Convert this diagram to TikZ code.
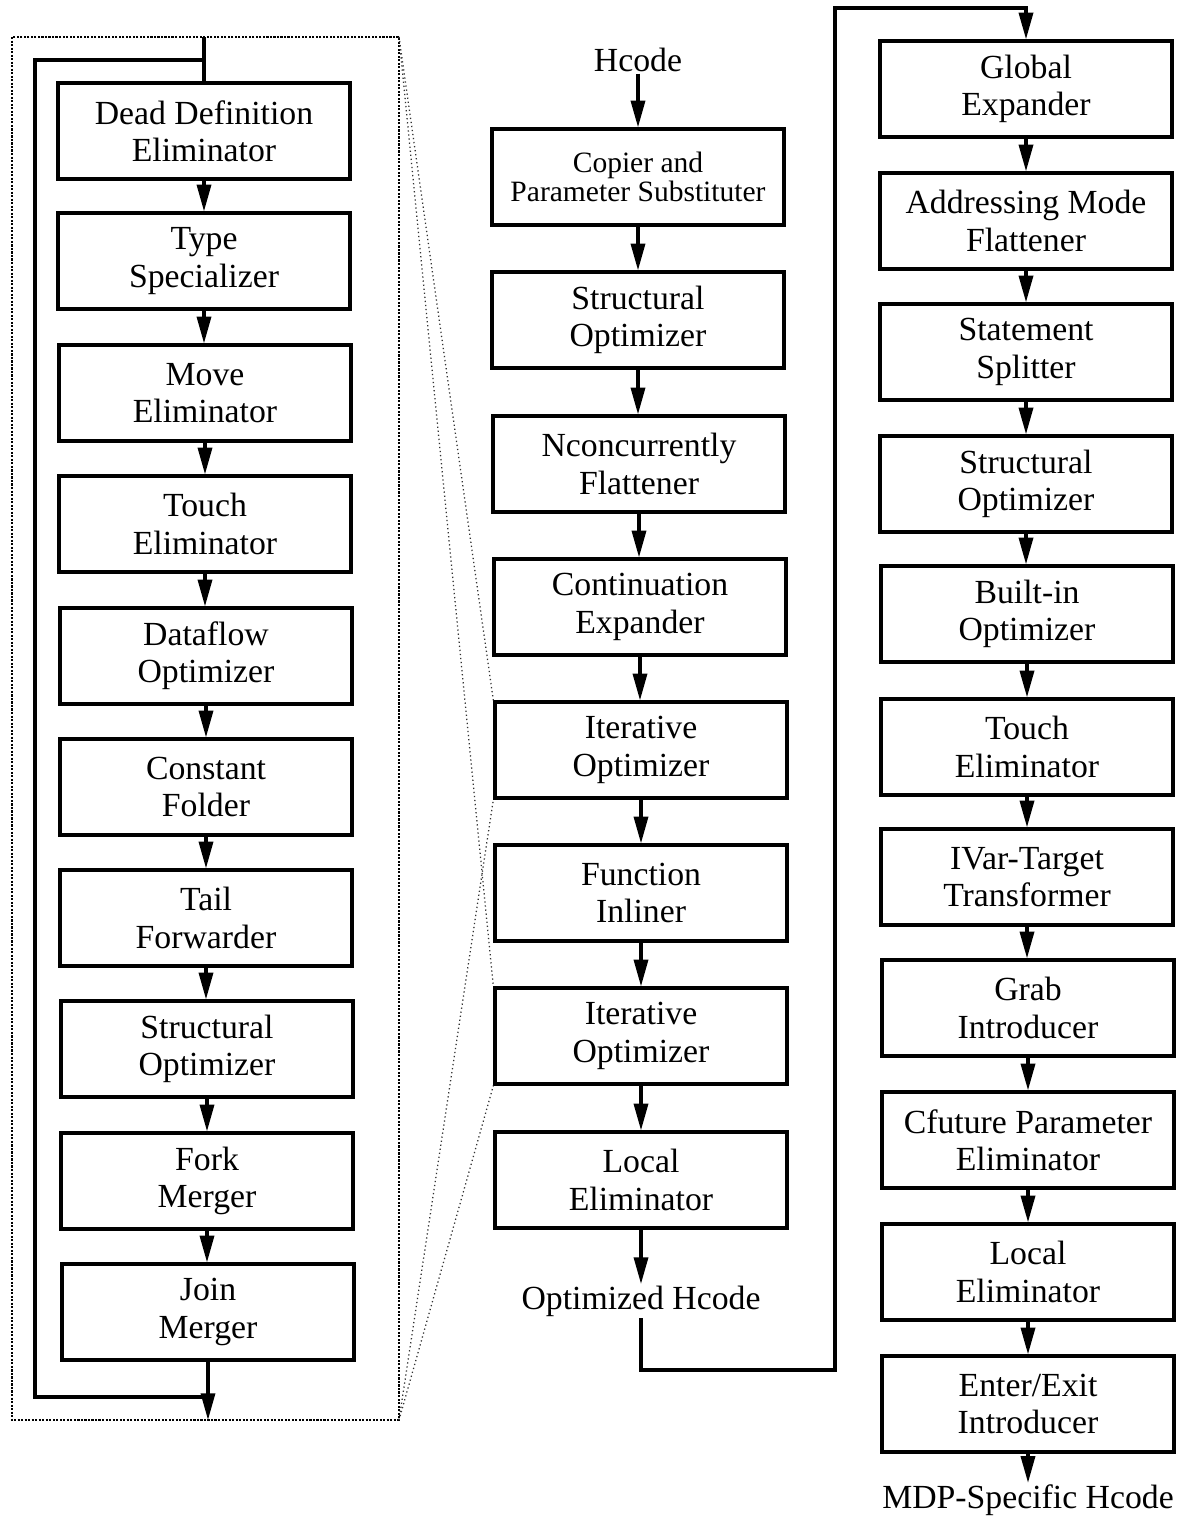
\documentclass[tikz,border=0pt]{standalone}
\usepackage{fontspec}
\setmainfont{Liberation Serif}
\usetikzlibrary{arrows.meta}
\begin{document}
\begin{tikzpicture}[x=0.025cm,y=-0.025cm,
  stage/.style={draw,line width=2.3pt,minimum width=7.3cm,minimum height=2.4cm,
    align=center,inner sep=0pt,font=\fontsize{24}{26.5}\selectfont},
  small/.style={font=\fontsize{21}{21}\selectfont},
  lbl/.style={inner sep=1pt,font=\fontsize{24}{26.5}\selectfont},
  link/.style={line width=2.3pt},
  arr/.style={line width=2.3pt,-{Triangle[width=10pt,length=19pt]}},
  dotbox/.style={densely dotted,line width=1.5pt},
  fan/.style={dotted,line width=0.9pt,black!80}]
\useasboundingbox (0,0) rectangle (1191,1519);

% left column: the iterative optimizer loop
\node[stage] (l1)  at (204,131)  {Dead Definition\\Eliminator};
\node[stage] (l2)  at (204,261)  {Type\\Specializer};
\node[stage] (l3)  at (205,393)  {Move\\Eliminator};
\node[stage] (l4)  at (205,524)  {Touch\\Eliminator};
\node[stage] (l5)  at (206,656)  {Dataflow\\Optimizer};
\node[stage] (l6)  at (206,787)  {Constant\\Folder};
\node[stage] (l7)  at (206,918)  {Tail\\Forwarder};
\node[stage] (l8)  at (207,1049) {Structural\\Optimizer};
\node[stage] (l9)  at (207,1181) {Fork\\Merger};
\node[stage] (l10) at (208,1312) {Join\\Merger};

\foreach \a/\b in {l1/l2,l2/l3,l3/l4,l4/l5,l5/l6,l6/l7,l7/l8,l8/l9,l9/l10}
  \draw[arr] (\a.south) -- (\a.south |- \b.north);

\coordinate (ltop) at (204,37);
\coordinate (ljoin) at (204,60);
\coordinate (lcorner) at (35,1397);
\coordinate (lbot) at (208,1420);
\draw[link] (ltop) -- (l1.north);
\draw[link] (ljoin) -| (lcorner) -- (l10.south |- lcorner);
\draw[arr] (l10.south) -- (lbot);

\coordinate (dbtl) at (12,37);
\coordinate (dbtr) at (399,37);
\coordinate (dbbr) at (399,1420);
\draw[dotbox] (dbtl) rectangle (dbbr);

% middle column
\node[lbl] (hin) at (638,60) {Hcode};
\node[stage,small] (m1) at (638,177) {Copier and\\Parameter Substituter};
\node[stage] (m2) at (638,320)  {Structural\\Optimizer};
\node[stage] (m3) at (639,464)  {Nconcurrently\\Flattener};
\node[stage] (m4) at (640,607)  {Continuation\\Expander};
\node[stage] (m5) at (641,750)  {Iterative\\Optimizer};
\node[stage] (m6) at (641,893)  {Function\\Inliner};
\node[stage] (m7) at (641,1036) {Iterative\\Optimizer};
\node[stage] (m8) at (641,1180) {Local\\Eliminator};
\node[lbl] (hopt) at (641,1301) {Optimized Hcode};

\draw[arr] (hin.south) -- (hin.south |- m1.north);
\foreach \a/\b in {m1/m2,m2/m3,m3/m4,m4/m5,m5/m6,m6/m7,m7/m8}
  \draw[arr] (\a.south) -- (\a.south |- \b.north);
\draw[arr] (m8.south) -- (m8.south |- hopt.north);

% the loop on the left is the expansion of each iterative optimizer
\draw[fan] (dbtr) -- (m5.north west);
\draw[fan] (dbtr) -- (m7.north west);
\draw[fan] (dbbr) -- (m5.south west);
\draw[fan] (dbbr) -- (m7.south west);

% right column
\node[stage] (r1)  at (1026,89)   {Global\\Expander};
\node[stage] (r2)  at (1026,221)  {Addressing Mode\\Flattener};
\node[stage] (r3)  at (1026,352)  {Statement\\Splitter};
\node[stage] (r4)  at (1026,484)  {Structural\\Optimizer};
\node[stage] (r5)  at (1027,614)  {Built-in\\Optimizer};
\node[stage] (r6)  at (1027,747)  {Touch\\Eliminator};
\node[stage] (r7)  at (1027,877)  {IVar-Target\\Transformer};
\node[stage] (r8)  at (1028,1008) {Grab\\Introducer};
\node[stage] (r9)  at (1028,1140) {Cfuture Parameter\\Eliminator};
\node[stage] (r10) at (1028,1272) {Local\\Eliminator};
\node[stage] (r11) at (1028,1404) {Enter/Exit\\Introducer};
\node[lbl] (hmdp) at (1028,1500) {MDP-Specific Hcode};

\foreach \a/\b in {r1/r2,r2/r3,r3/r4,r4/r5,r5/r6,r6/r7,r7/r8,r8/r9,r9/r10,r10/r11}
  \draw[arr] (\a.south) -- (\a.south |- \b.north);
\draw[arr] (r11.south) -- (r11.south |- hmdp.north);

% optimized Hcode feeds the target-specific passes
\coordinate (tlow) at (835,1370);
\coordinate (thigh) at (835,8);
\draw[arr] (hopt.south) |- (tlow) -- (thigh) -| (r1.north);
\end{tikzpicture}
\end{document}
